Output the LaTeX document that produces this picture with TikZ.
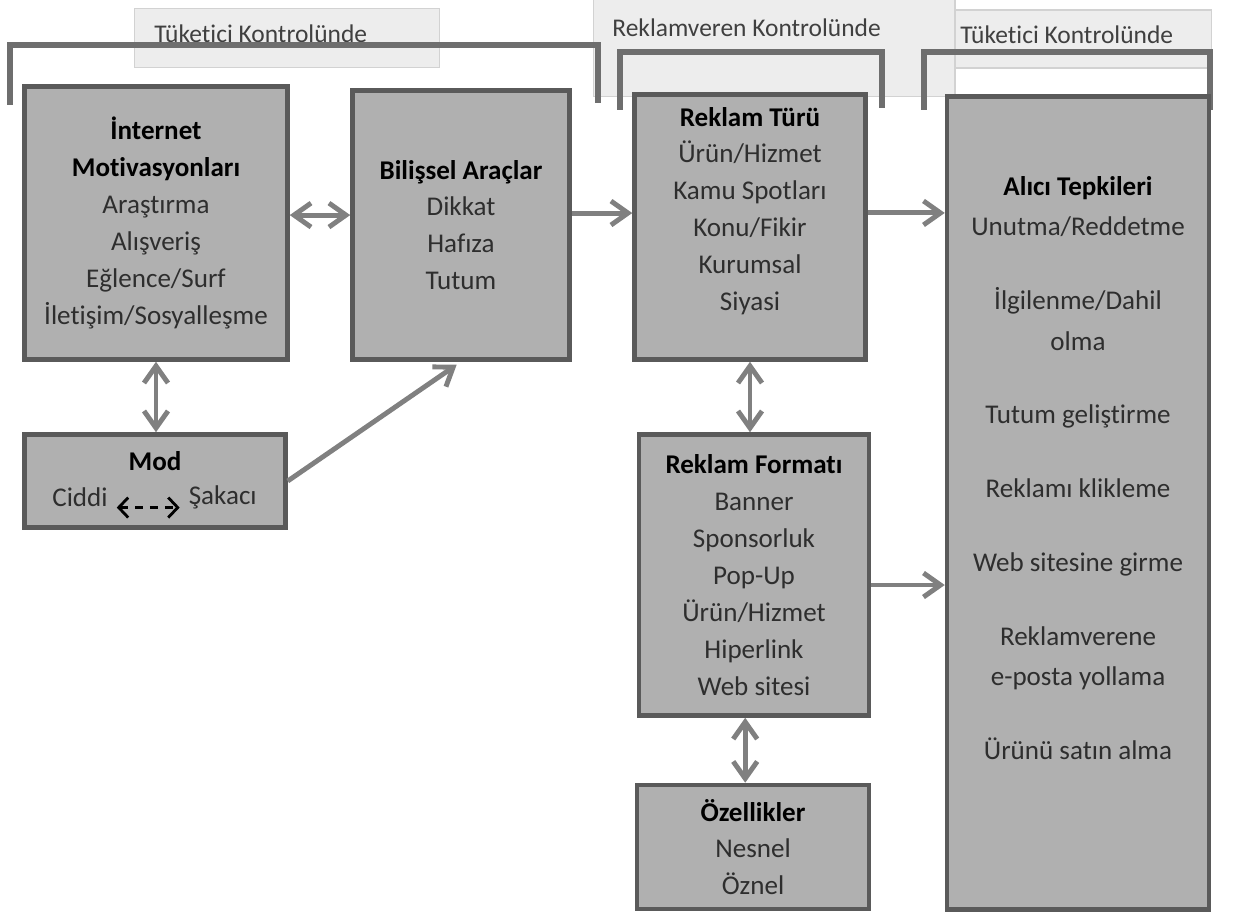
\documentclass[tikz,border=0pt]{standalone}
\usepackage{fontspec}
\setmainfont[Ligatures={NoCommon}]{Carlito}
\usetikzlibrary{arrows.meta}

\definecolor{boxfill}{HTML}{B0B0B0}
\definecolor{boxline}{HTML}{5A5A5A}
\definecolor{arrline}{HTML}{808080}
\definecolor{brkline}{HTML}{6E6E6E}
\definecolor{tagfill}{HTML}{EDEDED}
\definecolor{tagline}{HTML}{D2D2D2}
\definecolor{txt}{HTML}{2E2E2E}

\newcommand{\boxhead}[1]{\textbf{\color{black}#1}}

\tikzset{
  box/.style={draw=boxline, fill=boxfill, line width=2.6pt, align=center, text=txt, inner sep=0pt, font=\fontsize{15.4}{21}\selectfont},
  boxtxt/.style={align=center, text=txt, inner sep=0pt, font=\fontsize{15.4}{21}\selectfont},
  tag/.style={draw=tagline, fill=tagfill, line width=0.6pt, inner sep=0pt},
  tagtxt/.style={text=black!75, font=\fontsize{14.5}{17}\selectfont, anchor=west, inner sep=0pt},
  arr/.style={draw=arrline, line width=2.8pt},
  bracket/.style={draw=brkline, line width=3.4pt},
}

\begin{document}
\begin{tikzpicture}[x=0.02cm, y=-0.02cm, >={Straight Barb[length=3.4mm,width=4.8mm]}]
\useasboundingbox (0,0) rectangle (1240,918);

% control labels
\node[tag, minimum width=6.1cm, minimum height=1.18cm] (tuk1) at (287,38) {};
\node[tagtxt] (tuk1txt) at (154,34) {Tüketici Kontrolünde};
\node[tag, minimum width=5.54cm, minimum height=1.16cm] (tuk2) at (1073,39) {};
\node[tagtxt] (tuk2txt) at (960,35) {Tüketici Kontrolünde};
\node[tag, minimum width=7.24cm, minimum height=1.94cm] (rek) at (774,48) {};
\node[tagtxt] (rektxt) at (612,28) {Reklamveren Kontrolünde};

\draw[bracket] (10,105) -- (10,45) -- (598,45) -- (598,103);
\draw[bracket] (620,110) -- (620,52) -- (882,52) -- (882,108);
\draw[bracket] (924,110) -- (924,52) -- (1210,52) -- (1210,110);

% boxes
\node[box, minimum width=5.26cm, minimum height=5.46cm] (inet) at (156,223)
  {\boxhead{İnternet}\\\boxhead{Motivasyonları}\\Araştırma\\Alışveriş\\Eğlence/Surf\\İletişim/Sosyalleşme};
\node[box, minimum width=4.34cm, minimum height=5.38cm] (bilis) at (461,225)
  {\boxhead{Bilişsel Araçlar}\\Dikkat\\Hafıza\\Tutum};
\node[box, minimum width=4.62cm, minimum height=5.30cm] (tur) at (750,227) {};
\node[boxtxt] (turtxt) at (750,211)
  {\boxhead{Reklam Türü}\\Ürün/Hizmet\\Kamu Spotları\\Konu/Fikir\\Kurumsal\\Siyasi};
\node[box, minimum width=5.24cm, minimum height=16.26cm] (alici) at (1078,503) {};
\node[boxtxt, font=\fontsize{15.4}{23}\selectfont] (alicitxt) at (1078,468)
  {\boxhead{Alıcı Tepkileri}\\Unutma/Reddetme\\[19pt]İlgilenme/Dahil\\olma\\[19pt]Tutum geliştirme\\[19pt]Reklamı klikleme\\[19pt]Web sitesine girme\\[19pt]Reklamverene\\e-posta yollama\\[19pt]Ürünü satın alma};
\node[box, minimum width=5.22cm, minimum height=1.86cm] (mod) at (155,481) {};
\node[boxtxt] (modhead) at (155,461) {\boxhead{Mod}};
\node[boxtxt, anchor=west] (ciddi) at (52,497) {Ciddi};
\node[boxtxt, anchor=east] (sakaci) at (257,497) {Şakacı};
\node[box, minimum width=4.60cm, minimum height=5.62cm] (format) at (754,575)
  {\boxhead{Reklam Formatı}\\Banner\\Sponsorluk\\Pop-Up\\Ürün/Hizmet\\Hiperlink\\Web sitesi};
\node[box, minimum width=4.64cm, minimum height=2.48cm] (ozel) at (753,847)
  {\boxhead{Özellikler}\\Nesnel\\Öznel};

% connectors
\draw[black, line width=1.6pt, dash pattern=on 4.5pt off 4pt, {Straight Barb[length=1.9mm,width=4mm]}-{Straight Barb[length=1.9mm,width=4mm]}]
  ([xshift=5pt,yshift=-6pt]ciddi.east) -- ([xshift=-5pt,yshift=-6pt]sakaci.west);
\draw[arr,<->] ([yshift=4.5pt]inet.east) -- ([yshift=4.5pt]inet.east -| bilis.west);
\draw[arr,->] ([yshift=6.8pt]bilis.east) -- ([yshift=6.8pt]bilis.east -| tur.west);
\draw[arr,->] ([yshift=8pt]tur.east) -- ([yshift=8pt]tur.east -| alici.west);
\draw[arr,<->] (inet.south) -- (inet.south |- mod.north);
\draw[arr,->,shorten >=3pt] (mod.east) -- (bilis.south);
\draw[arr,<->] (tur.south) -- (tur.south |- format.north);
\draw[arr,->] ([yshift=-5.7pt]format.east) -- ([yshift=-5.7pt]format.east -| alici.west);
\draw[arr,<->] ([xshift=-5pt]format.south) -- ([xshift=-5pt]format.south |- ozel.north);
\end{tikzpicture}
\end{document}
